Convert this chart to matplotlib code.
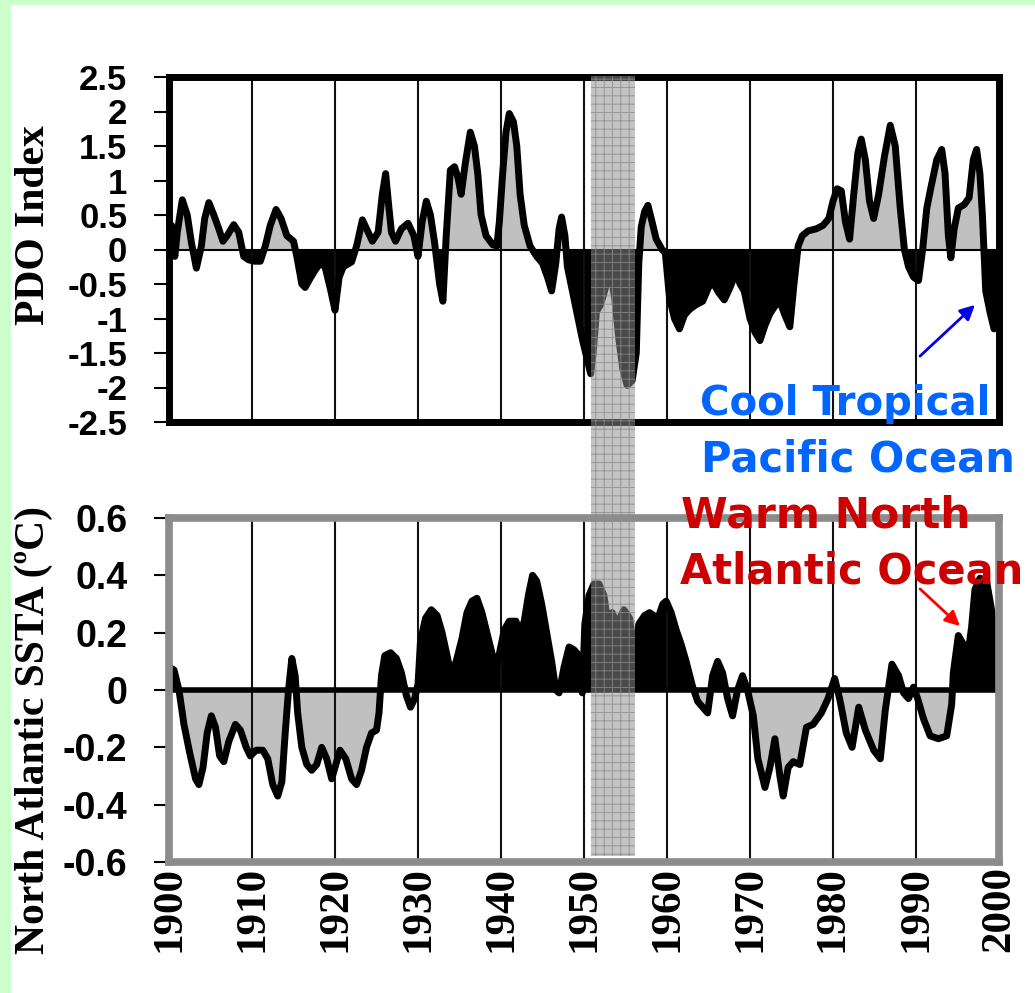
import matplotlib
matplotlib.use("Agg")
import matplotlib.pyplot as plt
import matplotlib.transforms as mtransforms
from matplotlib.patches import Rectangle
import numpy as np

# PDO index (smoothed)
pdo_years = [1900.0, 1900.3, 1900.7, 1901.0, 1901.6, 1902.2, 1902.7, 1903.3, 1903.9, 1904.3,
             1904.8, 1905.4, 1906.0, 1906.5, 1907.0, 1907.8, 1908.4, 1909.0, 1909.6, 1910.3,
             1911.0, 1911.6, 1912.2, 1912.9, 1913.5, 1914.2, 1915.0, 1915.4, 1916.0, 1916.4,
             1917.0, 1917.6, 1918.2, 1918.8, 1919.5, 1920.0, 1920.5, 1921.0, 1922.0, 1922.6,
             1923.3, 1923.8, 1924.5, 1925.2, 1925.7, 1926.1, 1926.5, 1926.8, 1927.3, 1928.0,
             1928.8, 1929.5, 1930.0, 1930.5, 1931.0, 1931.5, 1932.0, 1932.6, 1933.0, 1933.4,
             1933.9, 1934.4, 1934.8, 1935.2, 1935.7, 1936.3, 1936.8, 1937.2, 1937.6, 1938.2,
             1939.0, 1939.5, 1939.8, 1940.2, 1940.6, 1941.0, 1941.5, 1941.9, 1942.3, 1942.8,
             1943.5, 1944.3, 1945.0, 1945.6, 1946.1, 1946.6, 1947.0, 1947.3, 1947.7, 1948.0,
             1948.6, 1949.2, 1949.8, 1950.4, 1950.8, 1951.1, 1951.5, 1952.0, 1952.6, 1953.2,
             1953.7, 1954.2, 1954.7, 1955.2, 1955.8, 1956.3, 1956.6, 1956.9, 1957.3, 1957.7,
             1958.1, 1958.7, 1959.4, 1959.8, 1960.3, 1960.9, 1961.5, 1962.1, 1962.7, 1963.5,
             1964.3, 1965.0, 1965.5, 1966.2, 1966.9, 1967.6, 1968.3, 1968.8, 1969.3, 1970.0,
             1970.6, 1971.2, 1971.8, 1972.4, 1973.0, 1973.6, 1974.2, 1974.8, 1975.3, 1975.8,
             1976.3, 1977.0, 1978.0, 1978.8, 1979.5, 1980.0, 1980.5, 1981.0, 1981.5, 1982.0,
             1982.5, 1983.0, 1983.4, 1983.9, 1984.4, 1984.9, 1985.5, 1986.2, 1986.9, 1987.5,
             1988.1, 1988.6, 1989.1, 1989.7, 1990.3, 1990.8, 1991.3, 1991.8, 1992.5, 1993.1,
             1993.5, 1993.9, 1994.2, 1994.6, 1995.1, 1995.8, 1996.4, 1996.9, 1997.3, 1997.7,
             1998.0, 1998.4, 1998.9, 1999.4, 2000.0]
pdo_values = [0.2, 0.35, -0.1, 0.25, 0.72, 0.5, 0.1, -0.27, 0.05, 0.45,
              0.68, 0.5, 0.3, 0.12, 0.2, 0.36, 0.25, -0.1, -0.15, -0.17,
              -0.17, 0.05, 0.35, 0.58, 0.45, 0.2, 0.12, -0.1, -0.5, -0.55,
              -0.42, -0.3, -0.2, -0.25, -0.6, -0.88, -0.4, -0.25, -0.18, 0.05,
              0.43, 0.3, 0.12, 0.25, 0.8, 1.1, 0.6, 0.25, 0.12, 0.3,
              0.38, 0.2, -0.1, 0.4, 0.7, 0.5, 0.1, -0.5, -0.75, 0.2,
              1.15, 1.2, 1.05, 0.8, 1.25, 1.7, 1.5, 1.1, 0.5, 0.2,
              0.07, 0.05, 0.4, 1.1, 1.7, 1.97, 1.85, 1.5, 0.8, 0.35,
              0.05, -0.1, -0.2, -0.4, -0.6, -0.2, 0.3, 0.47, 0.2, -0.25,
              -0.6, -0.95, -1.3, -1.6, -1.8, -1.5, -0.9, -0.8, -0.55, -0.35,
              -0.7, -1.3, -1.75, -1.97, -1.9, -1.5, -0.2, 0.33, 0.55, 0.64,
              0.45, 0.15, 0.0, -0.05, -0.7, -1.0, -1.15, -0.95, -0.87, -0.8,
              -0.75, -0.55, -0.47, -0.62, -0.73, -0.55, -0.33, -0.5, -0.6, -1.0,
              -1.2, -1.32, -1.1, -0.93, -0.82, -0.75, -0.95, -1.12, -0.5, 0.05,
              0.2, 0.27, 0.3, 0.35, 0.45, 0.7, 0.88, 0.85, 0.4, 0.15,
              0.8, 1.4, 1.6, 1.3, 0.7, 0.45, 0.8, 1.35, 1.8, 1.5,
              0.6, 0.0, -0.25, -0.4, -0.45, 0.0, 0.6, 0.9, 1.3, 1.45,
              1.1, 0.2, -0.12, 0.3, 0.6, 0.65, 0.75, 1.3, 1.45, 1.1,
              0.5, -0.6, -0.9, -1.15, -1.1]

# North Atlantic SST anomaly (degC)
sst_years = [1900.0, 1900.6, 1901.2, 1901.8, 1902.5, 1903.2, 1903.6, 1904.1, 1904.6, 1905.1,
             1905.6, 1906.1, 1906.6, 1907.2, 1908.0, 1908.6, 1909.3, 1909.8, 1910.5, 1911.3,
             1911.9, 1912.5, 1913.1, 1913.6, 1914.0, 1914.4, 1914.8, 1915.2, 1915.5, 1916.0,
             1916.6, 1917.2, 1917.8, 1918.4, 1919.0, 1919.6, 1920.1, 1920.6, 1921.3, 1922.0,
             1922.6, 1923.2, 1923.8, 1924.4, 1925.0, 1925.3, 1925.6, 1926.0, 1926.7, 1927.4,
             1928.0, 1928.6, 1929.1, 1929.6, 1930.0, 1930.3, 1930.9, 1931.6, 1932.3, 1932.9,
             1933.5, 1934.0, 1934.6, 1935.3, 1935.9, 1936.5, 1937.1, 1937.7, 1938.3, 1938.9,
             1939.4, 1939.9, 1940.4, 1941.0, 1941.8, 1942.3, 1942.8, 1943.3, 1943.8, 1944.3,
             1944.9, 1945.5, 1946.1, 1946.6, 1947.0, 1947.6, 1948.2, 1948.8, 1949.4, 1949.8,
             1950.1, 1950.6, 1951.2, 1951.8, 1952.4, 1952.9, 1953.4, 1954.0, 1954.8, 1955.5,
             1956.1, 1956.6, 1957.3, 1957.9, 1958.9, 1959.5, 1959.9, 1960.5, 1961.1, 1961.7,
             1962.3, 1963.1, 1963.7, 1964.3, 1964.9, 1965.5, 1966.1, 1966.7, 1967.3, 1967.9,
             1968.5, 1969.1, 1969.7, 1970.4, 1970.95, 1971.8, 1972.4, 1973.0, 1973.6, 1974.0,
             1974.6, 1975.2, 1976.0, 1976.8, 1977.6, 1978.6, 1979.4, 1980.2, 1980.8, 1981.6,
             1982.3, 1983.1, 1983.9, 1984.9, 1985.7, 1986.3, 1987.1, 1987.9, 1988.5, 1989.1,
             1989.7, 1990.2, 1990.9, 1991.7, 1992.7, 1993.7, 1994.3, 1994.5, 1995.1, 1995.7,
             1996.1, 1996.7, 1997.1, 1997.7, 1998.5, 1999.1, 1999.5, 2000.0]
sst_values = [0.08, 0.07, 0.0, -0.12, -0.22, -0.31, -0.33, -0.27, -0.15, -0.09,
              -0.13, -0.23, -0.25, -0.18, -0.12, -0.14, -0.2, -0.23, -0.21, -0.21,
              -0.24, -0.33, -0.37, -0.32, -0.15, 0.0, 0.11, 0.05, -0.08, -0.2,
              -0.26, -0.28, -0.26, -0.2, -0.24, -0.31, -0.26, -0.21, -0.24, -0.31,
              -0.33, -0.28, -0.2, -0.15, -0.14, -0.08, 0.05, 0.12, 0.13, 0.11,
              0.06, -0.02, -0.06, -0.03, 0.02, 0.17, 0.25, 0.28, 0.26, 0.2,
              0.12, 0.05, 0.1, 0.18, 0.27, 0.31, 0.32, 0.27, 0.2, 0.13,
              0.07, 0.14, 0.21, 0.24, 0.24, 0.2, 0.24, 0.33, 0.4, 0.38,
              0.3, 0.2, 0.1, 0.0, -0.01, 0.08, 0.15, 0.14, 0.12, -0.01,
              0.23, 0.33, 0.37, 0.37, 0.33, 0.23, 0.27, 0.23, 0.28, 0.25,
              0.1, 0.23, 0.26, 0.27, 0.25, 0.3, 0.31, 0.27, 0.21, 0.16,
              0.1, 0.01, -0.04, -0.06, -0.08, 0.05, 0.1, 0.06, -0.03, -0.09,
              0.0, 0.05, 0.0, -0.09, -0.24, -0.34, -0.27, -0.17, -0.3, -0.37,
              -0.27, -0.25, -0.26, -0.13, -0.12, -0.08, -0.03, 0.04, -0.03, -0.15,
              -0.2, -0.06, -0.14, -0.21, -0.24, -0.07, 0.09, 0.05, -0.01, -0.03,
              0.01, -0.03, -0.1, -0.16, -0.17, -0.16, -0.05, 0.06, 0.19, 0.16,
              0.09, 0.22, 0.35, 0.39, 0.38, 0.28, 0.2, -0.01]

decades = list(range(1900, 2001, 10))
pdo_ticks = [2.5, 2, 1.5, 1, 0.5, 0, -0.5, -1, -1.5, -2, -2.5]
pdo_ticklabels = ["2.5", "2", "1.5", "1", "0.5", "0", "-0.5", "-1", "-1.5", "-2", "-2.5"]
sst_ticks = [0.6, 0.4, 0.2, 0, -0.2, -0.4, -0.6]
sst_ticklabels = ["0.6", "0.4", "0.2", "0", "-0.2", "-0.4", "-0.6"]
band_years = (1950.8, 1956.1)

W, H = 1035, 993
fig = plt.figure(figsize=(W / 100, H / 100), dpi=100)
fig.patch.set_facecolor("white")

# light green border on the left and top
fig.add_artist(Rectangle((0, 0), 11 / W, 1, transform=fig.transFigure,
                         color="#CCFFCC", lw=0, zorder=0))
fig.add_artist(Rectangle((0, 1 - 5 / H), 1, 5 / H, transform=fig.transFigure,
                         color="#CCFFCC", lw=0, zorder=0))

ax1 = fig.add_axes([169 / W, 1 - 422 / H, 830 / W, 345 / H])
ax2 = fig.add_axes([169 / W, 1 - 862 / H, 830 / W, 344 / H])

tick_font = dict(family="Liberation Sans", weight="bold")
serif_font = dict(family="Liberation Serif", weight="bold")


def draw_panel(ax, x, y, pos_color, neg_color, ticks, ticklabels, ylim, spine_color,
               spine_lw, zero_lw, label_size):
    x = np.array(x)
    y = np.array(y)
    ax.fill_between(x, y, 0, where=y >= 0, interpolate=True, color=pos_color, lw=0, zorder=2)
    ax.fill_between(x, y, 0, where=y <= 0, interpolate=True, color=neg_color, lw=0, zorder=2)
    for d in decades[1:-1]:
        ax.axvline(d, color="#111111", lw=1.5, zorder=2.5)
    ax.axhline(0, color="black", lw=zero_lw, zorder=2.6)
    ax.plot(x, y, color="black", lw=5, solid_joinstyle="round", zorder=3)
    ax.set_xlim(1900, 2000)
    ax.set_ylim(*ylim)
    ax.set_yticks(ticks)
    ax.set_yticklabels(ticklabels, fontsize=label_size, **tick_font)
    ax.tick_params(axis="y", length=11, width=1.5, pad=19, color="black")
    for s in ax.spines.values():
        s.set_color(spine_color)
        s.set_linewidth(spine_lw)
        s.set_zorder(4)
    ax.set_xticks(decades)


draw_panel(ax1, pdo_years, pdo_values, "#C0C0C0", "black", pdo_ticks, pdo_ticklabels,
           (-2.5, 2.5), "black", 5, 1.5, 25)
ax1.tick_params(axis="x", length=0, labelbottom=False)

draw_panel(ax2, sst_years, sst_values, "black", "#C0C0C0", sst_ticks, sst_ticklabels,
           (-0.6, 0.6), "#8C8C8C", 5.5, 4, 27)
ax2.set_xticklabels([str(d) for d in decades], rotation=90, fontsize=31, **serif_font)
ax2.tick_params(axis="x", length=0, pad=3)

# highlighted period spanning both panels
trans = mtransforms.blended_transform_factory(ax1.transData, fig.transFigure)
y0 = 1 - 856 / H
y1 = 1 - 76 / H
fig.add_artist(Rectangle((band_years[0], y0), band_years[1] - band_years[0], y1 - y0,
                         transform=trans, facecolor="#8E8E8E", alpha=0.52, lw=0, zorder=5))
plt.rcParams["hatch.linewidth"] = 0.7
fig.add_artist(Rectangle((band_years[0], y0), band_years[1] - band_years[0], y1 - y0,
                         transform=trans, facecolor="none", edgecolor="#8A8A8A",
                         hatch="++", alpha=0.8, lw=0, zorder=5))

# axis titles
fig.text(34 / W, 1 - 225 / H, "PDO Index", rotation=90, ha="center", va="center",
         fontsize=30, **serif_font)
fig.text(34 / W, 1 - 730 / H, "North Atlantic SSTA (ºC)", rotation=90, ha="center",
         va="center", fontsize=30, **serif_font)

# annotations
note_font = dict(family="DejaVu Sans", weight="bold")
fig.text(700 / W, 1 - 415 / H, "Cool Tropical", color="#0066FF", fontsize=29,
         ha="left", va="baseline", **note_font)
fig.text(701 / W, 1 - 472 / H, "Pacific Ocean", color="#0066FF", fontsize=30,
         ha="left", va="baseline", **note_font)
fig.text(681 / W, 1 - 528 / H, "Warm North", color="#CC0000", fontsize=30.5,
         ha="left", va="baseline", zorder=6, **note_font)
fig.text(680 / W, 1 - 584 / H, "Atlantic Ocean", color="#CC0000", fontsize=30,
         ha="left", va="baseline", zorder=6, **note_font)

ax1.annotate("", xy=(977, H - 303), xycoords="figure pixels",
             xytext=(918, H - 358), textcoords="figure pixels",
             arrowprops=dict(arrowstyle="-|>", color="#0000EE", lw=2, mutation_scale=22))
ax2.annotate("", xy=(962, H - 628), xycoords="figure pixels",
             xytext=(918, H - 587), textcoords="figure pixels",
             arrowprops=dict(arrowstyle="-|>", color="#FF0000", lw=2, mutation_scale=22))

fig.savefig("out.png", dpi=100, facecolor=fig.get_facecolor())
